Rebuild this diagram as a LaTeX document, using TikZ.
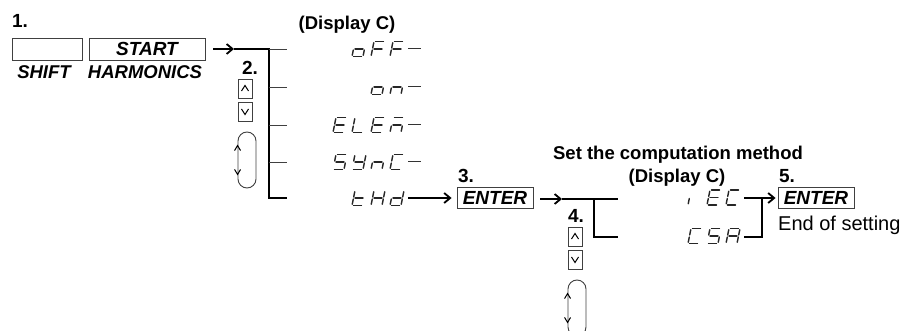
\documentclass[tikz,border=0pt]{standalone}
\usepackage{fontspec}
\setmainfont{Liberation Sans}
\usetikzlibrary{arrows.meta}
\newcommand\sgma{\draw[seg] (1.5,-15)--(9.5,-15);}
\newcommand\sgmb{\draw[seg] (11,-13.8)--(11,-8.5);}
\newcommand\sgmc{\draw[seg] (11,-6.5)--(11,-1.2);}
\newcommand\sgmd{\draw[seg] (1.5,0)--(9.5,0);}
\newcommand\sgme{\draw[seg] (0,-1.2)--(0,-6.5);}
\newcommand\sgmf{\draw[seg] (0,-8.5)--(0,-13.8);}
\newcommand\sgmg{\draw[seg] (1.5,-7.5)--(9.5,-7.5);}
\newcommand\glyph[3]{\begin{scope}[shift={(#1,#2+7.5)},xslant=0.2]\foreach \s in {#3}{\csname sgm\s\endcsname}\end{scope}}
\begin{document}
\begin{tikzpicture}[x=1pt,y=-1pt,
  seg/.style={line width=1.4pt,draw=black!85,line cap=round},
  num/.style={font=\bfseries\fontsize{19}{21}\selectfont,inner sep=0pt,anchor=base},
  keylbl/.style={font=\bfseries\itshape\fontsize{18.5}{21}\selectfont,inner sep=0pt,anchor=base},
  head/.style={font=\bfseries\fontsize{18.5}{21}\selectfont,inner sep=0pt,anchor=base},
  keybox/.style={draw=black!75,line width=0.9pt,inner sep=0pt,font=\bfseries\itshape\fontsize{19}{21}\selectfont},
  enterbox/.style={keybox,minimum width=76pt,minimum height=21pt,font=\bfseries\itshape\fontsize{19}{21}\selectfont},
  arrkey/.style={draw=black!75,line width=0.9pt,inner sep=0pt,minimum width=14pt,minimum height=19pt},
  loopkey/.style={draw=black!75,line width=0.9pt,inner sep=0pt,minimum width=18pt,minimum height=56pt,rounded corners=9pt},
  chev/.style={line width=1pt,black},
  conn/.style={line width=1.8pt,black},
  tickline/.style={line width=0.8pt,black!75},
  arr/.style={line width=1.8pt,black,-{Straight Barb[length=6pt,width=10pt,line width=1.8pt]}},
  dashline/.style={line width=1pt,black!80}
]
\useasboundingbox (0,0) rectangle (908,331);
\clip (0,0) rectangle (908,331);

% step 1
\node[num] (n1) at (20,28) {1.};
\node[keybox,minimum width=70pt,minimum height=22pt] (shiftkey) at (47,49) {};
\node[keybox,minimum width=116pt,minimum height=22pt] (startkey) at (147,49) {START};
\node[keylbl] (shiftlbl) at (44,79) {SHIFT};
\node[keylbl] (harmlbl) at (145,79) {HARMONICS};

% bar 1
\coordinate (b1top) at (269,49);
\coordinate (b1bot) at (269,198);
\coordinate (a1end) at (234,49);
\draw[arr] ([xshift=8pt]startkey.east) -- (a1end);
\draw[conn] (a1end) -- (b1top) -- (b1bot) -- ++(18,0);
\foreach \yy in {49,87,125,162}{\draw[tickline] (269,\yy) -- (287,\yy);}

% step 2
\node[num] (n2) at (250,75) {2.};
\node[arrkey] (up2) at (245,88.5) {};
\node[arrkey] (dn2) at (245,111.5) {};
\node[loopkey] (loop2) at (247,160) {};
\draw[chev] ([shift={(-3.5,2.5)}]up2.center) -- ([shift={(0,-3)}]up2.center) -- ([shift={(3.5,2.5)}]up2.center);
\draw[chev] ([shift={(-3.5,-2.5)}]dn2.center) -- ([shift={(0,3)}]dn2.center) -- ([shift={(3.5,-2.5)}]dn2.center);
\path (loop2.north west) ++(0,14) coordinate (l2a);
\draw[chev] ([shift={(-3,5)}]l2a) -- (l2a) -- ([shift={(3,5)}]l2a);
\path (loop2.south west) ++(0,-14) coordinate (l2b);
\draw[chev] ([shift={(-3,-5)}]l2b) -- (l2b) -- ([shift={(3,-5)}]l2b);

% display C header
\node[head] (disp1) at (347,30) {(Display C)};

% glyph rows
\glyph{352}{49}{g,c,d,e}\glyph{371}{49}{a,f,g,e}\glyph{390}{49}{a,f,g,e}
\glyph{371}{87}{g,c,d,e}\glyph{390}{87}{g,e,c}
\glyph{333}{125}{a,f,g,e,d}\glyph{352}{125}{f,e,d}\glyph{371}{125}{a,f,g,e,d}\glyph{390}{125}{a,g,e,c}
\glyph{333}{162}{a,f,g,c,d}\glyph{352}{162}{f,b,g,c,d}\glyph{371}{162}{g,e,c}\glyph{390}{162}{a,f,e,d}
\glyph{352}{198}{f,g,e,d}\glyph{371}{198}{f,b,g,e,c}\glyph{390}{198}{b,c,d,e,g}
\foreach \yy in {49,87,125,162}{\draw[dashline] (408,\yy) -- (421,\yy);}

% step 3
\node[num] (n3) at (466,183) {3.};
\node[enterbox] (enter3) at (495,198) {ENTER};
\coordinate (thdend) at (408,198);
\draw[arr] (thdend) -- ([xshift=-5pt]enter3.west |- thdend);

% bar 2
\coordinate (a3end) at (562,199);
\coordinate (b2top) at (594,199);
\coordinate (b2bot) at (594,237);
\draw[arr] ([xshift=7pt]enter3.east |- a3end) -- (a3end);
\draw[conn] (a3end) -- (618,199);
\draw[conn] (b2top) -- (b2bot) -- (618,237);

% step 4
\node[num] (n4) at (576,223) {4.};
\node[arrkey] (up4) at (575,236.5) {};
\node[arrkey] (dn4) at (575,259.5) {};
\node[loopkey] (loop4) at (577,308) {};
\draw[chev] ([shift={(-3.5,2.5)}]up4.center) -- ([shift={(0,-3)}]up4.center) -- ([shift={(3.5,2.5)}]up4.center);
\draw[chev] ([shift={(-3.5,-2.5)}]dn4.center) -- ([shift={(0,3)}]dn4.center) -- ([shift={(3.5,-2.5)}]dn4.center);
\path (loop4.north west) ++(0,14) coordinate (l4a);
\draw[chev] ([shift={(-3,5)}]l4a) -- (l4a) -- ([shift={(3,5)}]l4a);
\path (loop4.south west) ++(0,-14) coordinate (l4b);
\draw[chev] ([shift={(-3,-5)}]l4b) -- (l4b) -- ([shift={(3,-5)}]l4b);

% computation method
\node[head] (setlbl) at (678,160) {Set the computation method};
\node[head] (disp2) at (677,183) {(Display C)};
\glyph{688}{197.5}{e}\glyph{707}{197.5}{a,f,g,e,d}\glyph{726}{197.5}{a,f,e,d}
\glyph{688}{236}{a,f,e,d}\glyph{707}{236}{a,f,g,c,d}\glyph{726}{236}{a,b,c,e,f,g}

% step 5
\node[num] (n5) at (787,183) {5.};
\node[enterbox] (enter5) at (816,198) {ENTER};
\node[font=\fontsize{20}{23}\selectfont,inner sep=0pt,anchor=base west] (endlbl) at (778,231) {End of setting};
\coordinate (iecend) at (744,198);
\coordinate (csaend) at (744,237);
\coordinate (b3top) at (762,198);
\draw[conn] (iecend) -- (b3top);
\draw[arr] (b3top) -- ([xshift=-2pt]enter5.west |- b3top);
\draw[conn] (csaend) -- (762,237) -- (b3top);
\end{tikzpicture}
\end{document}
